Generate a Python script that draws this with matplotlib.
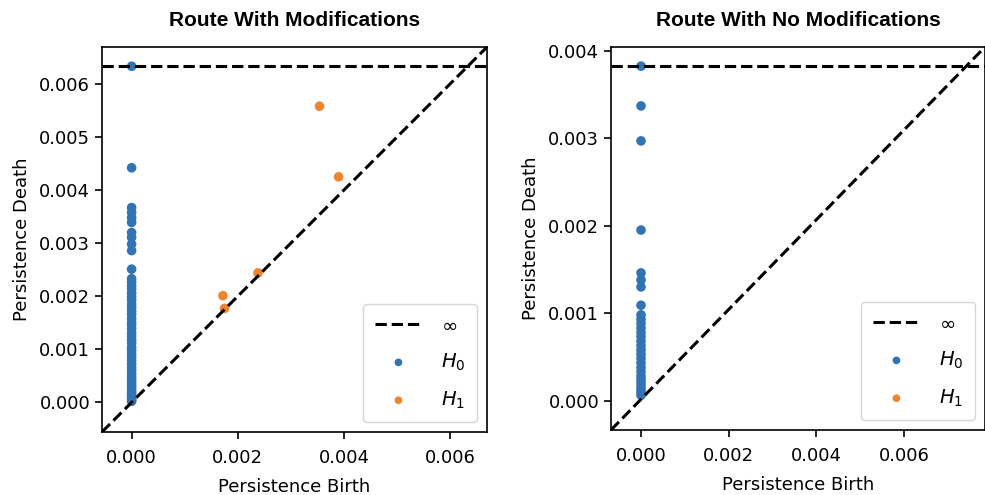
import numpy as np
import matplotlib
matplotlib.use("Agg")
import matplotlib.pyplot as plt

# ---------------- data ----------------
titles = ["Route With Modifications", "Route With No Modifications"]

# Left diagram (with modifications)
left_h0_birth = 0.0
left_h0_death = [np.inf, 0.00442, 0.00367, 0.00358, 0.00348, 0.00339, 0.00320, 0.00311,
                 0.00298, 0.00286, 0.00251, 0.00233, 0.00227, 0.00220, 0.00214, 0.00206,
                 0.00199, 0.00193, 0.00185, 0.00179, 0.00172, 0.00166, 0.00158, 0.00151,
                 0.00146, 0.00139, 0.00131, 0.00125, 0.00118, 0.00112, 0.00104, 0.00098,
                 0.00091, 0.00085, 0.00079, 0.00072, 0.00066, 0.00060, 0.00054, 0.00048,
                 0.00043, 0.00037, 0.00032, 0.00027, 0.00022, 0.00018, 0.00014, 0.00010,
                 0.00007, 0.00004, 0.00002]
left_h1_birth = [0.00354, 0.00390, 0.00238, 0.00172, 0.00175]
left_h1_death = [0.00558, 0.00425, 0.00244, 0.00201, 0.00177]

# Right diagram (no modifications)
right_h0_birth = 0.0
right_h0_death = [np.inf, 0.00337, 0.00297, 0.00195, 0.00146, 0.00138, 0.00130, 0.00109,
                  0.00098, 0.00093, 0.00088, 0.00083, 0.00078, 0.00073, 0.00068, 0.00063,
                  0.00058, 0.00053, 0.00048, 0.00043, 0.00038, 0.00033, 0.00028, 0.00024,
                  0.00020, 0.00016, 0.00012, 0.00009, 0.00006]
right_h1_birth = []
right_h1_death = []
right_xlim = (-0.000685, 0.00785)

xticks = [0.000, 0.002, 0.004, 0.006]
left_yticks = [0.000, 0.001, 0.002, 0.003, 0.004, 0.005, 0.006]
right_yticks = [0.000, 0.001, 0.002, 0.003, 0.004]

c_h0 = "#3274b3"
c_h1 = "#f08530"

plt.rcParams["font.family"] = ["DejaVu Sans"]

fig = plt.figure(figsize=(9.85, 4.95), dpi=100)
W, H = 985, 495
axL = fig.add_axes([102 / W, (H - 432) / H, 385 / W, 385 / H])
axR = fig.add_axes([611 / W, (H - 430) / H, 374 / W, 383 / H])


def draw(ax, h0b, h0d, h1b, h1d, title, yticks, xlim=None):
    h0d = np.array(h0d, dtype=float)
    finite = np.concatenate([[h0b], h0d[np.isfinite(h0d)], h1b, h1d])
    amin, amax = finite.min(), finite.max()
    buf = (amax - amin) / 5
    lo, hi = amin - buf / 2, amax + buf
    y_inf = lo + (hi - lo) * 0.95
    if xlim is None:
        xlim = (lo, hi)
    ax.plot([xlim[0], xlim[1]], [lo, hi], "--", c="k", lw=2.2)
    ax.plot([xlim[0], xlim[1]], [y_inf, y_inf], "--", c="k", lw=2.2, label=r"$\infty$")
    d0 = np.where(np.isinf(h0d), y_inf, h0d)
    ax.scatter(np.full(len(d0), h0b), d0, s=48, c=c_h0, edgecolor="none", label=r"$H_0$")
    ax.scatter(h1b, h1d, s=48, c=c_h1, edgecolor="none", label=r"$H_1$")
    ax.set_xlim(xlim)
    ax.set_ylim(lo, hi)
    ax.set_xticks(xticks)
    ax.set_xticklabels([f"{v:.3f}" for v in xticks])
    ax.set_yticks(yticks)
    ax.set_yticklabels([f"{v:.3f}" for v in yticks])
    ax.tick_params(labelsize=13, length=5, width=1.2)
    ax.tick_params(axis="x", pad=7)
    for s in ax.spines.values():
        s.set_linewidth(1.2)
    ax.set_xlabel("Persistence Birth", fontsize=13, labelpad=8)
    ax.set_ylabel("Persistence Death", fontsize=13, labelpad=6)
    ax.set_title(title, fontsize=15, fontweight="bold", family="Liberation Sans", pad=15)
    leg = ax.legend(loc="lower right", fontsize=14, handlelength=2.4, handletextpad=1.0,
                    labelspacing=0.85, borderpad=0.6, borderaxespad=0.5, markerscale=0.8)


draw(axL, left_h0_birth, left_h0_death, left_h1_birth, left_h1_death, titles[0], left_yticks)
draw(axR, right_h0_birth, right_h0_death, right_h1_birth, right_h1_death, titles[1],
     right_yticks, xlim=right_xlim)

fig.savefig("out.png", dpi=100)
